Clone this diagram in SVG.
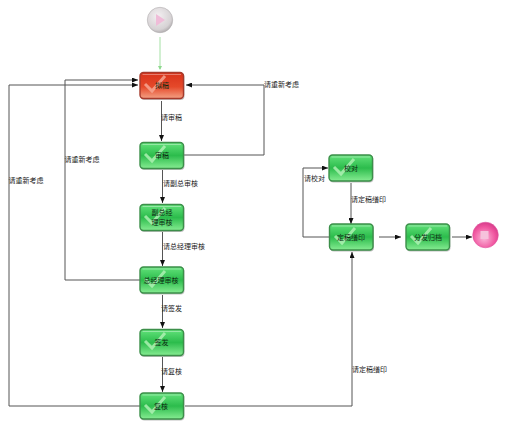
<svg xmlns="http://www.w3.org/2000/svg" width="505" height="424" viewBox="0 0 505 424">
<style>
.t{font-family:"Noto Sans CJK SC","Liberation Sans",sans-serif;font-size:7px;fill:#222;}
.n{font-family:"Noto Sans CJK SC","Liberation Sans",sans-serif;font-size:7px;fill:#0d2b12;text-anchor:middle;}
.c{fill:none;stroke:#555;stroke-width:1;}
.box{stroke-width:1.4;}
.g{fill:url(#gg);stroke:#3c8f4a;}
.r{fill:url(#rg);stroke:#a63a2c;}
.sh{fill:#8a8a8a;opacity:.55;}
.hi{fill:none;stroke:#fff;stroke-width:.8;opacity:.45;}
.chk{fill:none;stroke:#b4f2b8;stroke-width:3;opacity:.8;}
.chkr{fill:none;stroke:#f6ab98;stroke-width:3;opacity:.8;}
</style>
<defs>
<linearGradient id="gg" x1="0" y1="0" x2="0" y2="1"><stop offset="0" stop-color="#62e27a"/><stop offset=".5" stop-color="#2cbc4c"/><stop offset="1" stop-color="#86ec92"/></linearGradient>
<linearGradient id="rg" x1="0" y1="0" x2="0" y2="1"><stop offset="0" stop-color="#d8321a"/><stop offset=".55" stop-color="#e5492a"/><stop offset="1" stop-color="#f3a184"/></linearGradient>
<radialGradient id="sg" cx=".42" cy=".35" r=".7"><stop offset="0" stop-color="#f4f0f2"/><stop offset=".75" stop-color="#d6d2d4"/><stop offset="1" stop-color="#a9a5a7"/></radialGradient>
<radialGradient id="eg" cx=".45" cy=".62" r=".62"><stop offset="0" stop-color="#fbb8da"/><stop offset=".7" stop-color="#f0559f"/><stop offset="1" stop-color="#d63c8a"/></radialGradient>
<marker id="a" markerWidth="6" markerHeight="5" refX="6" refY="2.500" orient="auto" markerUnits="userSpaceOnUse"><path d="M0 0L6 2.500L0 5Z" fill="#111"/></marker>
<marker id="ag" markerWidth="4" markerHeight="4" refX="3" refY="2" orient="auto" markerUnits="userSpaceOnUse"><path d="M0 0L4 2L0 4Z" fill="#8fd98f"/></marker>
</defs>
<g id="connectors">
<path d="M160 37V69" fill="none" stroke="#a4e0a4" stroke-width="1" marker-end="url(#ag)"/>
<path class="c" d="M161.500 101V141" marker-end="url(#a)"/>
<path class="c" d="M184 155H264V85H186" marker-end="url(#a)"/>
<path class="c" d="M162.500 170V203" marker-end="url(#a)"/>
<path class="c" d="M162.500 232V266" marker-end="url(#a)"/>
<path class="c" d="M162.500 295V328" marker-end="url(#a)"/>
<path class="c" d="M162.500 357V392" marker-end="url(#a)"/>
<path class="c" d="M140 280H65V80H138" marker-end="url(#a)"/>
<path class="c" d="M140 406H9V85H138" marker-end="url(#a)"/>
<path class="c" d="M185 406H352V252" marker-end="url(#a)"/>
<path class="c" d="M351 183V224" marker-end="url(#a)"/>
<path class="c" d="M329 237H303V168H328" marker-end="url(#a)"/>
<path class="c" d="M379 237H401" marker-end="url(#a)"/>
<path class="c" d="M452 237H472" marker-end="url(#a)"/>
</g>
<g id="labels">
<text class="t" x="161" y="120">请审稿</text>
<text class="t" x="163" y="186">请副总审核</text>
<text class="t" x="163" y="248.500">请总经理审核</text>
<text class="t" x="161" y="311">请签发</text>
<text class="t" x="161" y="374">请复核</text>
<text class="t" x="264" y="87">请重新考虑</text>
<text class="t" x="64.500" y="162">请重新考虑</text>
<text class="t" x="8.500" y="183">请重新考虑</text>
<text class="t" x="304" y="181">请校对</text>
<text class="t" x="351" y="202">请定稿缮印</text>
<text class="t" x="352" y="372">请定稿缮印</text>
</g>
<g id="start"><circle cx="160" cy="20" r="12.700" fill="url(#sg)" stroke="#b0acae" stroke-width=".6"/><path d="M156 14L165 20L156 26Z" fill="#efbcd8"/></g>
<g id="n1"><rect class="sh" x="140.500" y="73" width="44" height="27" rx="4"/><rect class="box r" x="140" y="72.500" width="43.500" height="26" rx="3.500"/><path class="hi" d="M142.500 74.500H181"/><path class="chkr" d="M145 84L152 91L165 76"/><text class="n" x="162" y="88">拟稿</text></g>
<g id="n2"><rect class="sh" x="140.500" y="143" width="44" height="27" rx="4"/><rect class="box g" x="140" y="142.500" width="43.500" height="26" rx="3.500"/><path class="hi" d="M142.500 144.500H181"/><path class="chk" d="M145 154L152 161L165 146"/><text class="n" x="162" y="158">审稿</text></g>
<g id="n3"><rect class="sh" x="140.500" y="205" width="44" height="27" rx="4"/><rect class="box g" x="140" y="204.500" width="43.500" height="26" rx="3.500"/><path class="hi" d="M142.500 206.500H181"/><path class="chk" d="M145 216L152 223L165 208"/><text class="n" x="162" y="214.500">副总经</text><text class="n" x="162" y="225">理审核</text></g>
<g id="n4"><rect class="sh" x="140.500" y="267.500" width="44" height="27" rx="4"/><rect class="box g" x="140" y="267" width="43.500" height="26" rx="3.500"/><path class="hi" d="M142.500 269H181"/><path class="chk" d="M145 279L152 286L165 271"/><text class="n" x="161" y="283">总经理审核</text></g>
<g id="n5"><rect class="sh" x="140.500" y="330" width="44" height="27" rx="4"/><rect class="box g" x="140" y="329.500" width="43.500" height="26" rx="3.500"/><path class="hi" d="M142.500 331.500H181"/><path class="chk" d="M145 341L152 348L165 333"/><text class="n" x="161.500" y="345">签发</text></g>
<g id="n6"><rect class="sh" x="140.500" y="393.500" width="44" height="27" rx="4"/><rect class="box g" x="140" y="393" width="43.500" height="26" rx="3.500"/><path class="hi" d="M142.500 395H181"/><path class="chk" d="M145 405L152 412L165 397"/><text class="n" x="161" y="409">复核</text></g>
<g id="n7"><rect class="sh" x="329.500" y="155.500" width="44" height="27" rx="4"/><rect class="box g" x="329" y="155" width="43.500" height="26" rx="3.500"/><path class="hi" d="M331.500 157H370"/><path class="chk" d="M334 167L341 174L354 159"/><text class="n" x="351" y="171">校对</text></g>
<g id="n8"><rect class="sh" x="330" y="224.500" width="44" height="27" rx="4"/><rect class="box g" x="329.500" y="224" width="43.500" height="26" rx="3.500"/><path class="hi" d="M332 226H370.500"/><path class="chk" d="M335 236L342 243L355 228"/><text class="n" x="351" y="239.500">定稿缮印</text></g>
<g id="n9"><rect class="sh" x="406.500" y="224.500" width="44" height="27" rx="4"/><rect class="box g" x="406" y="224" width="43.500" height="26" rx="3.500"/><path class="hi" d="M408.500 226H447"/><path class="chk" d="M411 236L418 243L431 228"/><text class="n" x="428" y="239.500">分发归档</text></g>
<g id="end"><circle cx="485.500" cy="235" r="12.800" fill="url(#eg)" stroke="#e0569f" stroke-width=".6"/><rect x="480.500" y="231" width="8" height="8" fill="#f6c2dc"/></g>
</svg>
